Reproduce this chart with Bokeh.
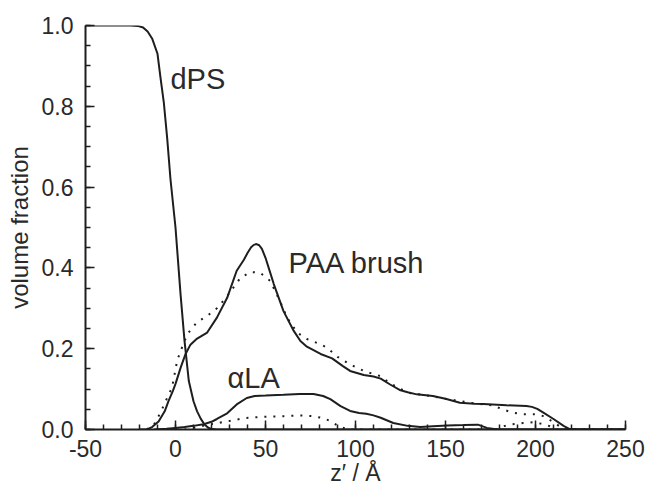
from bokeh.plotting import figure
from bokeh.models import Range1d, SingleIntervalTicker, PrintfTickFormatter, Label
from bokeh.embed import file_html
from bokeh.resources import INLINE

# dPS (solid)
z_dps = [-50, -25, -21, -18, -15.5, -13, -10, -8.3, -6.5, -4.6, -2.8, 0, 2.8, 5, 7.4, 10, 12, 14, 16, 18, 20, 23, 250]
phi_dps = [1.0, 1.0, 0.999, 0.995, 0.985, 0.968, 0.93, 0.87, 0.81, 0.72, 0.62, 0.50, 0.335, 0.22, 0.12, 0.07, 0.045, 0.027, 0.013, 0.005, 0.001, 0.0, 0.0]

# PAA brush (solid, measured)
z_paa = [-20, -16, -13, -9.4, -6, -3.9, -1.5, 0, 3, 5.6, 8.3, 12, 17.6, 23, 28.7, 34, 38, 40, 42, 43.5, 45, 46.5, 48, 50, 52, 54.6, 60, 65.7,
         69.4, 73, 80.6, 87, 93, 97, 104.6, 110, 114, 119, 125, 129, 134, 143, 150, 158, 166, 171, 184, 195, 198, 201,
         204.6, 210, 215.6, 219, 222, 250]
phi_paa = [0.0, 0.0, 0.006, 0.02, 0.045, 0.07, 0.095, 0.113, 0.155, 0.187, 0.21, 0.225, 0.24, 0.277, 0.326, 0.393, 0.42, 0.437, 0.451, 0.457, 0.459, 0.456, 0.447, 0.425, 0.397, 0.36, 0.293, 0.244,
           0.219, 0.205, 0.187, 0.176, 0.157, 0.145, 0.135, 0.131, 0.126, 0.112, 0.097, 0.092, 0.087, 0.083, 0.076, 0.066, 0.064, 0.063, 0.06, 0.058, 0.056, 0.051,
           0.041, 0.026, 0.009, 0.001, 0.0, 0.0]

# PAA brush (dotted, model)
z_paa_fit = [-16, -12, -8.3, -5.5, -1.9, 0.9, 2.8, 6.6, 12, 17.6, 23, 28.7, 36, 41.6, 47, 52.6, 58, 62, 67.6, 73, 80, 84, 90,
             95.5, 101, 106.5, 114, 119, 125, 130.6, 141.7, 150, 164, 176, 181.7, 187, 193, 199, 204.6, 209, 213, 216.7, 250]
phi_paa_fit = [0.0, 0.012, 0.042, 0.07, 0.104, 0.17, 0.194, 0.236, 0.266, 0.281, 0.30, 0.33, 0.375, 0.39, 0.388, 0.368, 0.318, 0.277, 0.24, 0.224, 0.212, 0.203, 0.18,
               0.165, 0.152, 0.142, 0.132, 0.115, 0.1, 0.09, 0.083, 0.076, 0.066, 0.06, 0.05, 0.042, 0.038, 0.038, 0.033, 0.021, 0.009, 0.0, 0.0]

# alpha-LA (solid, measured)
z_ala = [-12, -5, 0, 5, 10, 15.6, 20, 23, 28.7, 34, 39.6, 44, 50, 60, 69, 76.7, 82, 86, 91.7, 97, 102, 106, 110, 114, 121, 129,
         136, 143, 151, 160, 168, 173, 179, 250]
phi_ala = [0.0, 0.002, 0.004, 0.006, 0.009, 0.013, 0.019, 0.026, 0.04, 0.062, 0.078, 0.083, 0.084, 0.086, 0.088, 0.088, 0.083, 0.075, 0.058, 0.046, 0.041, 0.039, 0.035, 0.029, 0.016, 0.009,
           0.006, 0.008, 0.01, 0.011, 0.012, 0.004, 0.0, 0.0]

# alpha-LA (dotted, model)
z_ala_fit = [5, 12, 19.4, 28.7, 38, 47, 60, 69, 76.7, 82, 86, 90, 95.5, 178, 182, 187, 193, 199, 204.6, 208, 212, 250]
phi_ala_fit = [0.0, 0.006, 0.013, 0.02, 0.028, 0.031, 0.033, 0.035, 0.033, 0.028, 0.021, 0.01, 0.0, 0.0, 0.008, 0.013, 0.016, 0.018, 0.013, 0.008, 0.0, 0.0]

labels = ["dPS", "PAA brush", "\u03b1LA"]
label_x = [-2.8, 62.8, 28.9]
label_y = [0.868, 0.412, 0.127]

FONT = "Liberation Sans"
INK = "#1e1e1e"
TXT = "#2a2a2a"

p = figure(width=647, height=488, output_backend="svg", toolbar_location=None,
           x_range=Range1d(-50, 250), y_range=Range1d(0, 1.0),
           min_border_left=85, min_border_right=22, min_border_top=25, min_border_bottom=59)
p.outline_line_color = None
p.grid.visible = False
p.background_fill_color = "white"
p.border_fill_color = "white"

p.line(z_dps, phi_dps, line_color=INK, line_width=2)
p.line(z_paa, phi_paa, line_color=INK, line_width=2)
p.line(z_ala, phi_ala, line_color=INK, line_width=2)
p.line(z_paa_fit, phi_paa_fit, line_color=INK, line_width=2, line_dash="2 7")
p.line(z_ala_fit, phi_ala_fit, line_color=INK, line_width=2, line_dash="2 7")

for t, lx, ly in zip(labels, label_x, label_y):
    p.add_layout(Label(x=lx, y=ly, text=t, text_font=FONT, text_font_size="29px",
                       text_color=TXT, text_baseline="alphabetic"))

p.xaxis.ticker = SingleIntervalTicker(interval=50, num_minor_ticks=5)
p.yaxis.ticker = SingleIntervalTicker(interval=0.2, num_minor_ticks=4)
p.yaxis.formatter = PrintfTickFormatter(format="%.1f")
p.xaxis.formatter = PrintfTickFormatter(format="%d")

for ax in (p.xaxis[0], p.yaxis[0]):
    ax.axis_line_color = INK
    ax.axis_line_width = 2
    ax.major_tick_line_color = INK
    ax.major_tick_line_width = 1.5
    ax.minor_tick_line_color = INK
    ax.minor_tick_line_width = 1.5
    ax.major_tick_in = 9
    ax.major_tick_out = 0
    ax.minor_tick_in = 5
    ax.minor_tick_out = 0
    ax.major_label_text_font = FONT
    ax.major_label_text_font_size = "23px"
    ax.major_label_text_color = TXT
    ax.axis_label_text_font = FONT
    ax.axis_label_text_font_style = "normal"
    ax.axis_label_text_color = TXT

p.xaxis.axis_label_text_font_size = "23px"
p.yaxis.axis_label_text_font_size = "24px"
p.xaxis.axis_label = "z\u2032 / \u00c5"
p.yaxis.axis_label = "volume fraction"
p.xaxis.major_label_standoff = 10
p.xaxis.axis_label_standoff = 0
p.yaxis.major_label_standoff = 12
p.yaxis.axis_label_standoff = 6

open("out.html", "w").write(file_html(p, INLINE))
